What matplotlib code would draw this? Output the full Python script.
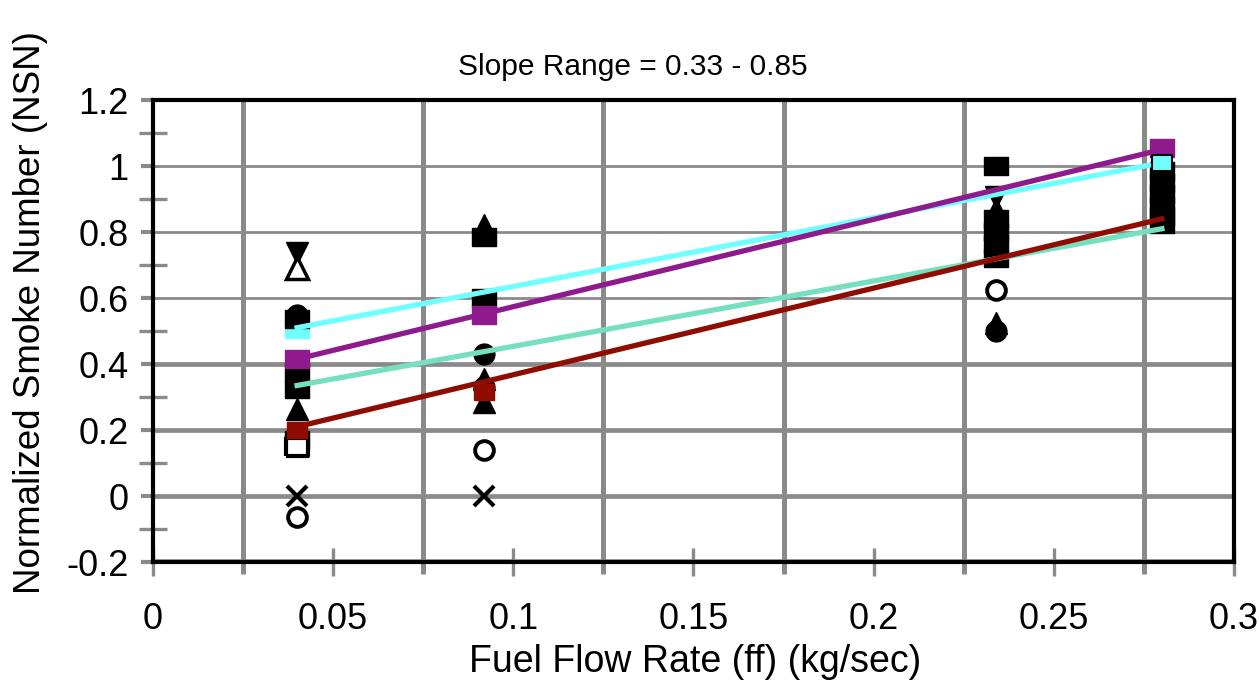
import numpy as np
import matplotlib.pyplot as plt

plt.rcParams['font.family'] = ['Liberation Sans', 'DejaVu Sans']

# fuel flow test points (kg/sec)
flow_ends = [0.040, 0.280]

# trend lines, NSN at the lowest and highest fuel flow
cyan_trend = [0.510, 1.010]
purple_trend = [0.415, 1.050]
teal_trend = [0.335, 0.810]
red_trend = [0.210, 0.840]

# measured smoke numbers, grouped by marker style
sq_flow = [0.040, 0.040, 0.040, 0.040, 0.092, 0.092, 0.234, 0.234, 0.234, 0.234, 0.234,
           0.280, 0.280, 0.280, 0.280, 0.280, 0.280]
sq_nsn = [0.535, 0.375, 0.325, 0.170, 0.785, 0.600, 1.000, 0.840, 0.800, 0.765, 0.720,
          0.985, 0.950, 0.915, 0.880, 0.850, 0.825]

circ_flow = [0.040, 0.092, 0.092, 0.234, 0.234]
circ_nsn = [0.550, 0.430, 0.330, 0.770, 0.500]

tri_up_flow = [0.040, 0.092, 0.092, 0.092, 0.234, 0.234]
tri_up_nsn = [0.265, 0.820, 0.355, 0.285, 0.525, 0.870]

tri_dn_flow = [0.040, 0.234]
tri_dn_nsn = [0.735, 0.905]

open_tri_flow = [0.040]
open_tri_nsn = [0.690]

open_sq_flow = [0.040]
open_sq_nsn = [0.150]

open_circ_flow = [0.040, 0.092, 0.234]
open_circ_nsn = [-0.065, 0.140, 0.625]

cross_flow = [0.040, 0.092]
cross_nsn = [0.000, 0.000]

# coloured series points (same colours as their trend lines)
purple_flow = [0.040, 0.092, 0.280]
purple_nsn = [0.415, 0.550, 1.055]
cyan_flow = [0.040, 0.280]
cyan_nsn = [0.505, 1.010]
red_flow = [0.040, 0.092]
red_nsn = [0.200, 0.315]

x_ticks = [0, 0.05, 0.1, 0.15, 0.2, 0.25, 0.3]
x_labels = ['0', '0.05', '0.1', '0.15', '0.2', '0.25', '0.3']
y_ticks = [-0.2, 0, 0.2, 0.4, 0.6, 0.8, 1.0, 1.2]
y_labels = ['-0.2', '0', '0.2', '0.4', '0.6', '0.8', '1', '1.2']
y_grid_width = [4.0, 3.4, 3.4, 3.4, 2.0, 2.0, 2.0, 2.0]

GRID = '#8a8a8a'
rect = [(-1.3, -1), (1.3, -1), (1.3, 1), (-1.3, 1), (-1.3, -1)]

fig = plt.figure(figsize=(12.59, 6.88), dpi=100)
ax = fig.add_axes([0.1215, 0.1831, 0.8586, 0.6715])

ax.set_xlim(0, 0.3)
ax.set_ylim(-0.2, 1.2)

# grid: vertical lines sit between the labelled ticks
for xv in np.arange(0.025, 0.3, 0.05):
    ax.axvline(xv, color=GRID, lw=3.6, zorder=0)
for yv, w in zip(y_ticks, y_grid_width):
    ax.axhline(yv, color=GRID, lw=w, zorder=0)

# colour points hidden under the black markers
ax.plot(cyan_flow[:1], cyan_nsn[:1], ls='none', marker=rect, ms=17, color='#70ffff', zorder=2)

# black markers
mk = dict(ls='none', color='black', zorder=3)
ax.plot(sq_flow, sq_nsn, marker=rect, ms=17, **mk)
ax.plot(circ_flow, circ_nsn, marker='o', ms=15, **mk)
ax.plot(tri_up_flow, tri_up_nsn, marker='^', ms=16, **mk)
ax.plot(tri_dn_flow, tri_dn_nsn, marker='v', ms=16, **mk)
ax.plot(open_tri_flow, open_tri_nsn, marker='^', ms=16, mfc='white', mec='black', mew=2.5,
        ls='none', zorder=3)
ax.plot(open_sq_flow, open_sq_nsn, marker=rect, ms=16, mfc='white', mec='black', mew=3,
        ls='none', zorder=4)
ax.plot(open_circ_flow, open_circ_nsn, marker='o', ms=13.5, mfc='white', mec='black', mew=2.8,
        ls='none', zorder=3)
ax.plot(cross_flow, cross_nsn, marker='x', ms=14, mew=3, **mk)

# trend lines
ax.plot(flow_ends, cyan_trend, color='#70ffff', lw=3.8, zorder=4)
ax.plot(flow_ends, purple_trend, color='#8e1a8e', lw=3.8, zorder=4)
ax.plot(flow_ends, teal_trend, color='#74e0c0', lw=3.8, zorder=4)
ax.plot(flow_ends, red_trend, color='#8f0c00', lw=3.8, zorder=4)

ax.plot(purple_flow, purple_nsn, ls='none', marker=rect, ms=17, color='#8e1a8e', zorder=5)
ax.plot(cyan_flow[1:], cyan_nsn[1:], ls='none', marker=rect, ms=15, color='#70ffff',
        mec='black', mew=1.5, zorder=5)
ax.plot(red_flow, red_nsn, ls='none', marker=rect, ms=15, color='#8f0c00', zorder=5)

# ticks
ax.set_xticks(x_ticks)
ax.set_xticklabels(x_labels)
ax.set_xticks(np.arange(0.025, 0.3, 0.05), minor=True)
ax.set_yticks(y_ticks)
ax.set_yticklabels(y_labels)
ax.set_yticks(np.arange(-0.1, 1.2, 0.2), minor=True)
ax.tick_params(axis='x', which='major', direction='inout', length=20, width=2.4,
               color=GRID, labelsize=26, pad=19)
ax.tick_params(axis='x', which='minor', direction='out', length=8.5, width=3.6, color=GRID)
ax.tick_params(axis='y', which='major', direction='out', length=8.5, width=3.0,
               color=GRID, labelsize=26, pad=9)
ax.tick_params(axis='y', which='minor', direction='inout', length=20, width=2.4, color=GRID)

for side in ['left', 'right', 'top', 'bottom']:
    ax.spines[side].set_linewidth(3)
    ax.spines[side].set_color('black')
    ax.spines[side].set_zorder(6)

ax.set_xlabel('Fuel Flow Rate (ff) (kg/sec)', fontsize=27)
ax.xaxis.set_label_coords(0.502, -0.178)
ax.set_ylabel('Normalized Smoke Number (NSN)', fontsize=26.5)
ax.yaxis.set_label_coords(-0.097, 0.541)
ax.text(0.444, 1.072, 'Slope Range = 0.33 - 0.85', transform=ax.transAxes,
        ha='center', va='center', fontsize=21.5)

fig.savefig('out.png', dpi=100)
